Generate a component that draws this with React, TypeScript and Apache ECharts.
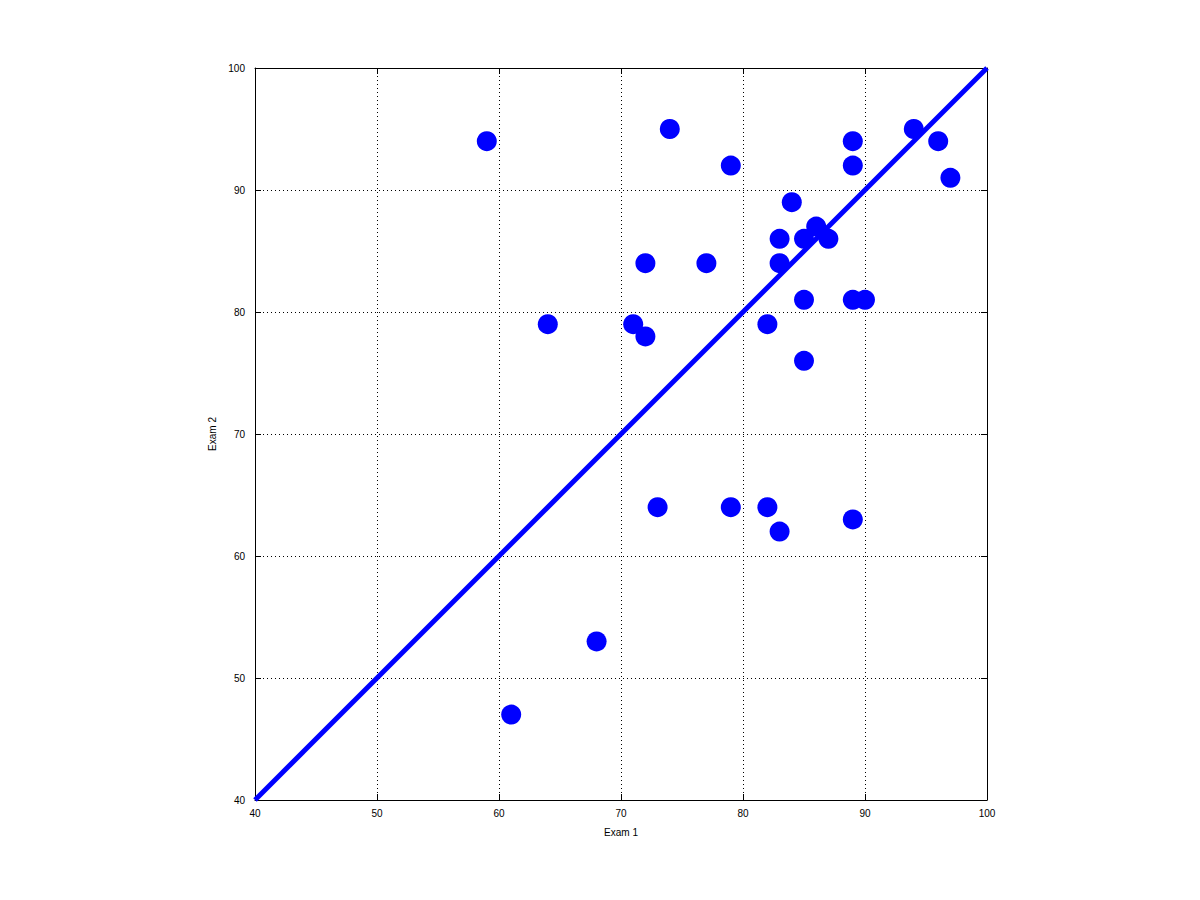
import React, { useEffect, useRef } from "react";
import * as echarts from "echarts";

const exam1 = [59, 61, 64, 68, 71, 72, 72, 73, 74, 77, 79, 79, 82, 82, 83, 83, 83, 84, 85, 85, 85, 86, 87, 89, 89, 89, 90, 89, 94, 96, 97];
const exam2 = [94, 47, 79, 53, 79, 84, 78, 64, 95, 84, 92, 64, 79, 64, 86, 84, 62, 89, 86, 81, 76, 87, 86, 94, 92, 81, 81, 63, 95, 94, 91];
const lineX = [40, 100];
const lineY = [40, 100];

export default function App() {
  const ref = useRef<HTMLDivElement>(null);
  useEffect(() => {
    if (!ref.current) return;
    const chart = echarts.init(ref.current, null, { renderer: "svg" });
    const font = "'Liberation Sans', Arial, sans-serif";
    const baseAxis = {
      type: "value" as const,
      min: 40,
      max: 100,
      interval: 10,
      axisLine: { show: true, onZero: false, lineStyle: { color: "#000", width: 1 } },
      axisTick: { show: true, inside: true, length: 6, lineStyle: { color: "#000" } },
      axisLabel: { color: "#000", fontSize: 10, fontFamily: font, margin: 8 },
      splitLine: { show: true, lineStyle: { color: "#000", type: [1, 3] as any, width: 1 } },
      nameTextStyle: { color: "#000", fontSize: 10, fontFamily: font },
    };
    chart.setOption({
      animation: false,
      backgroundColor: "#fff",
      grid: { left: 255, right: 213, top: 68, bottom: 100, containLabel: false },
      xAxis: [
        { ...baseAxis, position: "bottom", name: "Exam 1", nameLocation: "middle", nameGap: 27 },
        { ...baseAxis, position: "top", axisLabel: { show: false }, splitLine: { show: false } },
      ],
      yAxis: [
        { ...baseAxis, position: "left", name: "Exam 2", nameLocation: "middle", nameGap: 38,
          axisLabel: { ...baseAxis.axisLabel, margin: 10 } },
        { ...baseAxis, position: "right", axisLabel: { show: false }, splitLine: { show: false } },
      ],
      series: [
        {
          type: "line",
          data: lineX.map((x, i) => [x, lineY[i]]),
          showSymbol: false,
          symbol: "none",
          lineStyle: { color: "#0000ff", width: 5 },
          silent: true,
          z: 3,
        },
        {
          type: "scatter",
          data: exam1.map((x, i) => [x, exam2[i]]),
          symbol: "circle",
          symbolSize: 20,
          itemStyle: { color: "#0000ff", opacity: 1 },
          z: 4,
        },
      ],
    });
    return () => chart.dispose();
  }, []);
  return <div ref={ref} style={{ width: 1200, height: 900, position: "absolute", left: 0, top: 0 }} />;
}
